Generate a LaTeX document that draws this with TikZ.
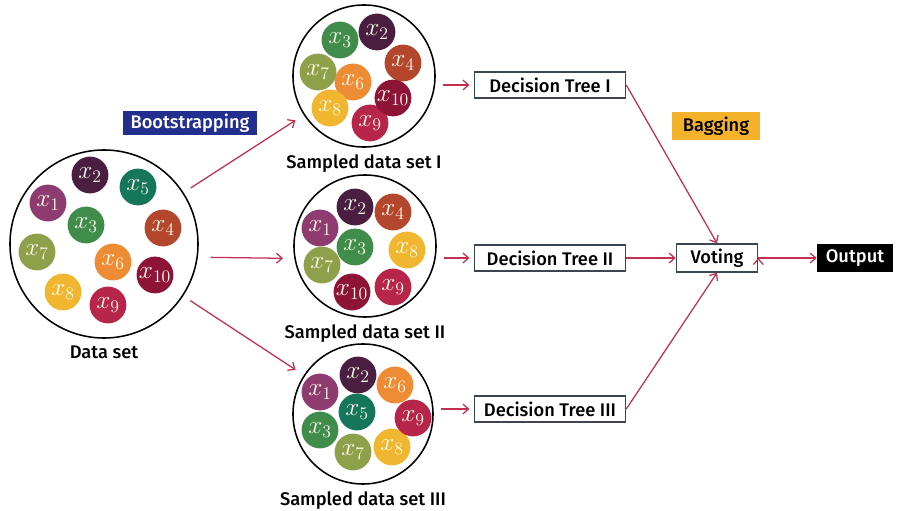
\RequirePackage{fix-cm}
\documentclass[tikz,border=0pt]{standalone}
\usepackage{fontspec}
\setmainfont{Fira Sans}[UprightFont={* Medium}, BoldFont={* SemiBold}]
\usetikzlibrary{positioning, arrows.meta}
\definecolor{c1}{HTML}{8E3B6F}
\definecolor{c2}{HTML}{4A1E40}
\definecolor{c3}{HTML}{3F8C4B}
\definecolor{c4}{HTML}{B4462E}
\definecolor{c5}{HTML}{16765A}
\definecolor{c6}{HTML}{EE8B35}
\definecolor{c7}{HTML}{8FA04B}
\definecolor{c8}{HTML}{F0B630}
\definecolor{c9}{HTML}{B7254A}
\definecolor{c10}{HTML}{8E1437}
\definecolor{arrowred}{HTML}{C3304F}
\definecolor{boxgray}{HTML}{3C4552}
\definecolor{bootblue}{HTML}{232F8E}
\definecolor{bagorange}{HTML}{F4B22B}
\tikzset{
arr/.style={-{Straight Barb[length=4pt, width=7pt]}, draw=arrowred, line width=0.9pt}, % red connectors
dataset/.style={circle, draw=black, line width=1.1pt, inner sep=0pt}, % the big circles
dot/.style={circle, minimum size=0.92cm, inner sep=0pt, text=white!92!yellow, font=\fontsize{18}{18}\selectfont}, % one sample x_i
box/.style={draw=boxgray, line width=1.1pt, fill=white, minimum height=0.65cm, inner sep=0pt}, % boxes with a frame
tag/.style={minimum height=0.62cm, inner sep=0pt}, % filled labels
every node/.style={font=\fontsize{13}{15}\selectfont},
}

\begin{document}
\begin{tikzpicture}[x=0.025cm, y=-0.025cm]
\useasboundingbox (0,0) rectangle (897,511);
% data set and the three samples
\node[dataset, minimum size=4.7cm] (ds) at (104,244) {};
\node[below=0.5mm of ds] (lds) {Data set};
\node[dataset, minimum size=3.55cm] (s1) at (364,76) {};
\node[below=0.5mm of s1] (ls1) {Sampled data set I};
\node[dataset, minimum size=3.55cm] (s2) at (365,246) {};
\node[below=0.5mm of s2] (ls2) {Sampled data set II};
\node[dataset, minimum size=3.5cm] (s3) at (363,414) {};
\node[below=0.5mm of s3] (ls3) {Sampled data set III};
% the samples
\foreach \n/\px/\py in {1/48/203, 2/90/175, 3/86/225, 4/163/228, 5/138/187,
                        6/113/262, 7/37/252, 8/63/292, 9/108/305, 10/155/275}
  \node[dot, fill=c\n] (d\n) at (\px,\py) {$x_{\n}$};
\foreach \n/\px/\py in {2/377/32, 3/340/40, 4/403/63, 6/353/82,
                        7/318/72, 8/330/108, 9/370/123, 10/393/98}
  \node[dot, fill=c\n] (a\n) at (\px,\py) {$x_{\n}$};
\foreach \n/\px/\py in {1/320/228, 2/355/207, 3/355/247, 4/393/212,
                        7/322/265, 8/407/250, 9/393/287, 10/352/292}
  \node[dot, fill=c\n] (b\n) at (\px,\py) {$x_{\n}$};
\foreach \n/\px/\py in {1/320/392, 2/358/375, 3/320/430, 5/357/412,
                        6/395/385, 7/353/452, 8/392/447, 9/413/418}
  \node[dot, fill=c\n] (c\n) at (\px,\py) {$x_{\n}$};
% trees, voting, output
\node[box, minimum width=3.775cm] (t1) at (550,85) {Decision Tree I};
\node[box, minimum width=3.775cm] (t2) at (550,258) {Decision Tree II};
\node[box, minimum width=3.775cm] (t3) at (550,409) {Decision Tree III};
\node[box, minimum width=2.025cm, minimum height=0.7cm] (vote) at (717,258) {Voting};
\node[tag, fill=black, text=white, minimum width=1.9cm, minimum height=0.72cm] (out) at (855,258) {Output};
\node[tag, fill=bagorange, minimum width=2.2cm, minimum height=0.7cm] (bag) at (716,126) {Bagging};
\node[tag, fill=bootblue, text=white, minimum width=3.35cm, minimum height=0.6cm] (boot) at (190,123) {Bootstrapping};
\draw[arr]
    (ds) edge[shorten <=6pt, shorten >=7pt] (s1)
    (ds.-8) edge[shorten <=9pt, shorten >=8pt] (s2.190)
    (ds) edge[shorten <=6pt, shorten >=7pt] (s3)
    (t1.west -| s1.east) edge[shorten <=5pt, shorten >=3pt] (t1.west)
    (t2.west -| s2.east) edge[shorten <=5pt, shorten >=3pt] (t2.west)
    (t3.west -| s3.east) edge[shorten <=5pt, shorten >=3pt] (t3.west)
    (t1.east) edge (vote.north)
    (t2.east) edge (vote.west)
    (t3.east) edge (vote.south)
    (vote.east) edge (out.west)
    ;
\end{tikzpicture}
\end{document}
